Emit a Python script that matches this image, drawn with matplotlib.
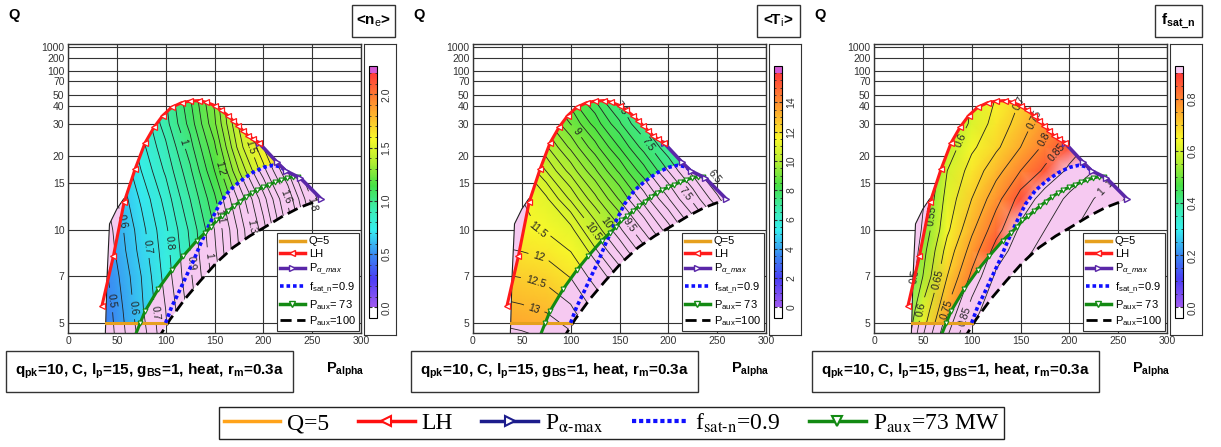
import numpy as np
import matplotlib
matplotlib.use('Agg')
import matplotlib.pyplot as plt
from matplotlib.colors import LinearSegmentedColormap, Normalize
from matplotlib.patches import Polygon, Rectangle
from matplotlib.lines import Line2D
from matplotlib.cm import ScalarMappable

plt.rcParams['font.family'] = ['Liberation Sans', 'DejaVu Sans']
plt.rcParams['mathtext.fontset'] = 'custom'
plt.rcParams['mathtext.rm'] = 'Liberation Sans'
plt.rcParams['mathtext.it'] = 'Liberation Sans:italic'
plt.rcParams['mathtext.bf'] = 'Liberation Sans:bold'

W, H = 1221, 447

# Boundary curves, P_alpha [MW] vs Q
lh_p = [34.7, 46.5, 57.4, 68.7, 78.9, 88.1, 96.9, 106.1, 116.3, 124.8, 134.3, 141.8,
        150.3, 157.1, 163.9, 169.0, 174.1, 179.2, 184.3, 189.4, 195.5]
lh_q = [5.64, 8.15, 12.6, 17.3, 23.2, 28.5, 33.9, 39.0, 42.5, 43.8, 44.3, 42.8,
        40.3, 37.0, 33.9, 31.4, 29.2, 27.2, 25.4, 24.4, 23.2]

pmax_p = [195.5, 213.9, 222.8, 238.0, 259.2]
pmax_q = [23.2, 18.6, 17.0, 15.8, 13.0]

fsat_p = [100, 106, 112, 120, 128, 136, 145, 155, 165, 176, 188, 200, 210, 218, 222]
fsat_q = [5.0, 5.6, 6.1, 6.9, 7.8, 9.0, 10.5, 12.4, 14.0, 15.3, 16.6, 17.6, 18.0, 17.7, 17.1]

aux73_p = [68, 74, 78.9, 92.5, 106.1, 118, 131.6, 140, 146, 152, 158, 164, 170, 176,
           182, 188, 194, 200, 206, 212, 218, 224, 230, 236]
aux73_q = [4.5, 5.0, 5.44, 6.39, 7.32, 8.15, 9.16, 9.75, 10.2, 10.8, 11.2, 11.7, 12.2, 12.7,
           13.2, 13.7, 14.1, 14.5, 14.8, 15.2, 15.5, 15.8, 16.0, 16.0]

aux100_p = [92, 104.4, 120, 135.2, 152, 169, 186, 203, 220, 237, 250.6, 259.2]
aux100_q = [4.45, 5.12, 5.95, 6.76, 7.75, 8.7, 9.52, 10.3, 11.2, 12.05, 12.6, 13.0]

left_p = [38, 38.6, 40, 42.5, 50, 57]
left_q = [4.4, 5.0, 7.0, 10.5, 11.9, 13.0]

q5_p = [38.6, 100]
q5_q = [5, 5]

# field tables: rows = grid_q, columns = grid_p
grid_p = [0, 25, 50, 75, 100, 125, 150, 175, 200, 225, 250, 275, 300]
grid_q = [4.5, 5.5, 7, 8.5, 10, 13, 17, 22, 30, 50]

ne_vals = [
    [0.30, 0.40, 0.51, 0.62, 0.74, 0.85, 0.98, 1.13, 1.30, 1.47, 1.65, 1.86, 2.06],
    [0.31, 0.41, 0.52, 0.64, 0.75, 0.87, 1.00, 1.15, 1.32, 1.49, 1.68, 1.88, 2.08],
    [0.33, 0.43, 0.54, 0.65, 0.77, 0.89, 1.02, 1.18, 1.35, 1.52, 1.71, 1.91, 2.11],
    [0.34, 0.44, 0.56, 0.67, 0.78, 0.90, 1.04, 1.20, 1.37, 1.54, 1.73, 1.94, 2.13],
    [0.35, 0.45, 0.57, 0.68, 0.79, 0.91, 1.05, 1.21, 1.38, 1.56, 1.75, 1.96, 2.15],
    [0.38, 0.48, 0.60, 0.71, 0.82, 0.95, 1.09, 1.26, 1.43, 1.61, 1.81, 2.02, 2.20],
    [0.41, 0.52, 0.63, 0.75, 0.86, 0.99, 1.15, 1.35, 1.53, 1.70, 1.89, 2.08, 2.26],
    [0.44, 0.55, 0.66, 0.78, 0.89, 1.03, 1.19, 1.42, 1.60, 1.77, 1.95, 2.13, 2.31],
    [0.46, 0.58, 0.69, 0.80, 0.93, 1.07, 1.24, 1.46, 1.64, 1.81, 2.00, 2.17, 2.36],
    [0.49, 0.60, 0.71, 0.83, 0.95, 1.10, 1.27, 1.48, 1.66, 1.84, 2.03, 2.21, 2.40],
]

ti_vals = [
    [13.79, 13.72, 13.62, 13.47, 13.12, 12.44, 11.84, 11.24, 10.64, 10.04, 9.44, 8.84, 8.24],
    [13.26, 13.19, 13.09, 12.94, 12.59, 11.91, 11.31, 10.71, 10.11, 9.51, 8.91, 8.31, 7.71],
    [12.64, 12.57, 12.47, 12.32, 11.97, 11.29, 10.69, 10.09, 9.49, 8.89, 8.29, 7.69, 7.09],
    [12.15, 12.08, 11.98, 11.83, 11.48, 10.80, 10.20, 9.60, 9.00, 8.40, 7.80, 7.20, 6.60],
    [11.76, 11.69, 11.59, 11.44, 11.09, 10.41, 9.81, 9.21, 8.61, 8.01, 7.41, 6.81, 6.21],
    [12.15, 11.85, 11.50, 11.05, 10.45, 9.82, 9.22, 8.62, 8.02, 7.42, 6.82, 6.22, 5.62],
    [12.29, 11.69, 11.09, 10.49, 9.89, 9.29, 8.69, 8.09, 7.49, 6.89, 6.29, 5.69, 5.09],
    [11.84, 11.24, 10.64, 10.04, 9.44, 8.84, 8.24, 7.64, 7.04, 6.44, 5.84, 5.24, 4.64],
    [11.39, 10.79, 10.19, 9.59, 8.99, 8.39, 7.79, 7.19, 6.59, 5.99, 5.39, 4.79, 4.19],
    [10.85, 10.25, 9.65, 9.05, 8.45, 7.85, 7.25, 6.65, 6.05, 5.45, 4.85, 4.25, 3.65],
]

fs_vals = [
    [0.25, 0.46, 0.65, 0.80, 0.91, 0.97, 1.03, 1.07, 1.12, 1.16, 1.20, 1.24, 1.28],
    [0.22, 0.42, 0.61, 0.75, 0.87, 0.95, 1.00, 1.04, 1.08, 1.12, 1.16, 1.20, 1.24],
    [0.22, 0.39, 0.55, 0.70, 0.81, 0.91, 0.96, 1.01, 1.05, 1.09, 1.12, 1.16, 1.19],
    [0.20, 0.37, 0.53, 0.67, 0.77, 0.87, 0.93, 0.97, 1.02, 1.05, 1.09, 1.13, 1.16],
    [0.20, 0.36, 0.51, 0.64, 0.74, 0.83, 0.91, 0.95, 0.99, 1.03, 1.07, 1.11, 1.15],
    [0.20, 0.35, 0.49, 0.62, 0.70, 0.78, 0.87, 0.92, 0.96, 1.00, 1.04, 1.08, 1.12],
    [0.20, 0.35, 0.47, 0.60, 0.67, 0.73, 0.80, 0.86, 0.91, 0.95, 0.99, 1.03, 1.07],
    [0.20, 0.34, 0.46, 0.57, 0.64, 0.69, 0.75, 0.81, 0.87, 0.92, 0.96, 1.00, 1.04],
    [0.20, 0.33, 0.44, 0.54, 0.61, 0.67, 0.72, 0.78, 0.83, 0.89, 0.93, 0.98, 1.02],
    [0.20, 0.32, 0.43, 0.52, 0.60, 0.65, 0.69, 0.74, 0.80, 0.86, 0.91, 0.96, 1.01],
]

# contour label anchors (P, Q)
ne_lab_pos = [(48.4, 5.9), (63.6, 10.9), (73.9, 5.6), (85.7, 8.8), (95.9, 5.4), (104.4, 9.0),
              (126.5, 7.75), (119, 23.7), (145, 8.2), (157, 17.5), (155, 11.2), (181, 21.7),
              (189.4, 10.3), (223, 13.3), (249, 12.4)]
ne_lab_lev = [0.5, 0.6, 0.7, 0.8, 0.9, 1.0, 1.1, 1.2, 1.3, 1.5, 1.6, 1.8]
ti_lab_pos = [(61, 5.37), (62.5, 6.5), (66, 7.84), (66, 10.05), (121, 9.8), (136.4, 10.6),
              (153.6, 10.05), (114, 29.2), (150, 38), (177.6, 22.5), (215.5, 13.4), (241, 15.2)]
ti_lab_lev = [6.5, 7, 7.5, 9, 9.5, 10, 10.5, 11.5, 12, 12.5, 13]
fs_lab_pos = [(153, 40.8), (166.8, 31.4), (173.6, 24.4), (190.9, 20), (236.8, 15.6), (235, 13.6),
              (86.5, 24.4), (62.8, 11.2), (42, 7.0), (66, 6.85), (49, 5.5), (74.6, 5.5), (93.3, 5.25)]
fs_lab_lev = [0.5, 0.55, 0.6, 0.65, 0.7, 0.75, 0.8, 0.85, 0.95, 1.0]

ytick_vals = [5, 7, 10, 15, 20, 30, 40, 50, 70, 100, 200, 1000]
xtick_vals = [0, 50, 100, 150, 200, 250, 300]

PINK = '#f6c9f1'
base_cmap = LinearSegmentedColormap.from_list('jetp', [
    (0.0, '#a25bf0'), (0.12, '#4b3ef5'), (0.22, '#3a86f2'), (0.33, '#36eef0'),
    (0.42, '#3cecb0'), (0.52, '#46e046'), (0.62, '#b2ee32'), (0.72, '#f8f82a'),
    (0.86, '#ff9a2e'), (1.0, '#ff3a3a')])


def fwd(q):
    q = np.asarray(q, float)
    return q / (q + 5.0)


def inv(f):
    f = np.clip(np.asarray(f, float), -10, 0.999999)
    return 5.0 * f / (1.0 - f)


def fig_rect(x0, y0, x1, y1):
    return [x0 / W, 1 - y1 / H, (x1 - x0) / W, (y1 - y0) / H]


ti_levels = list(np.round(np.arange(3, 11.01, 0.25), 2)) + [11.5, 12, 12.5, 13, 13.5]
panels = [
    dict(vals=ne_vals, vmax=2.2, levels=list(np.round(np.arange(0.3, 2.45, 0.05), 2)),
         lab_pos=ne_lab_pos, lab_lev=ne_lab_lev, ticks=[0, 0.5, 1.0, 1.5, 2.0], fmt='%.1f',
         over='#d45ad2', title='<n$_{\\rm e}$>', tbox=(352, 395)),
    dict(vals=ti_vals, vmax=16.0, levels=ti_levels,
         lab_pos=ti_lab_pos, lab_lev=ti_lab_lev, ticks=[0, 2, 4, 6, 8, 10, 12, 14], fmt='%d',
         over='#d45ad2', title='<T$_{\\rm i}$>', tbox=(352, 395)),
    dict(vals=fs_vals, vmax=0.9, levels=list(np.round(np.arange(0.2, 1.3, 0.05), 2)),
         lab_pos=fs_lab_pos, lab_lev=fs_lab_lev, ticks=[0.0, 0.2, 0.4, 0.6, 0.8], fmt='%.1f',
         over=PINK, title='f$_{\\mathbf{sat\\_n}}$', tbox=(349, 396)),
]
offsets = [0, 405, 806]

fig = plt.figure(figsize=(W / 100, H / 100), dpi=100)

lp, lq = np.array(left_p), np.array(left_q)
hp, hq = np.array(lh_p), np.array(lh_q)
mp, mq = np.array(pmax_p), np.array(pmax_q)
sp, sq = np.array(fsat_p), np.array(fsat_q)
gp, gq = np.array(aux73_p), np.array(aux73_q)
bp, bq = np.array(aux100_p), np.array(aux100_q)

# whole accessible region (pink)
pink_xy = np.column_stack([
    np.r_[lp, hp[hp > 57.5], mp[1:], bp[::-1]],
    np.r_[lq, hq[hp > 57.5], mq[1:], bq[::-1]]])
# region with f_sat<0.9 and P_aux<73, Q>5
k_l = (lq >= 5) & (lq <= 7)
k_s = sq >= 10
k_g = (gq >= 5) & (gq < 10)
col_xy = np.column_stack([
    np.r_[lp[k_l], hp[hq > 7], mp[mq >= 17], sp[k_s][::-1], gp[k_g][::-1]],
    np.r_[lq[k_l], hq[hq > 7], mq[mq >= 17], sq[k_s][::-1], gq[k_g][::-1]]])

PP, QQ = np.meshgrid(grid_p, grid_q)

for pan, off in zip(panels, offsets):
    ax = fig.add_axes(fig_rect(68 + off, 44, 361 + off, 333))
    ax.set_yscale('function', functions=(fwd, inv))
    ax.set_xlim(0, 300)
    ax.set_ylim(4.65, 1e5)
    ax.set_xticks(xtick_vals)
    ax.set_yticks(ytick_vals)
    ax.set_yticklabels([str(v) for v in ytick_vals])
    ax.minorticks_off()
    ax.tick_params(labelsize=7.5, colors='#333333', length=0, pad=2.5)
    ax.grid(True, color='#333333', lw=0.8)
    ax.set_axisbelow(True)
    for s in ax.spines.values():
        s.set_linewidth(1.0)
        s.set_color('#333333')

    cmap = base_cmap.copy()
    cmap.set_over(pan['over'])
    cmap.set_under('white')
    norm = Normalize(0, pan['vmax'])
    Z = np.array(pan['vals'])

    pink = Polygon(pink_xy, closed=True, fc=PINK, ec='none', zorder=1)
    ax.add_patch(pink)
    mesh = ax.pcolormesh(PP, QQ, Z, shading='gouraud', cmap=cmap, norm=norm, zorder=2)
    mesh.set_clip_path(Polygon(col_xy, closed=True, transform=ax.transData))

    lev_all = pan['levels']
    lev_lab = [v for v in lev_all if np.any(np.isclose(v, pan['lab_lev']))]
    lev_other = [v for v in lev_all if not np.any(np.isclose(v, pan['lab_lev']))]
    cs0 = ax.contour(PP, QQ, Z, levels=lev_other, colors='#222222', linewidths=0.6, zorder=3)
    cs0.set_clip_path(Polygon(pink_xy, closed=True, transform=ax.transData))
    cs1 = ax.contour(PP, QQ, Z, levels=lev_lab, colors='#222222', linewidths=0.6, zorder=3)
    cs1.set_clip_path(Polygon(pink_xy, closed=True, transform=ax.transData))
    ax.clabel(cs1, manual=pan['lab_pos'], inline=True, fontsize=7.5, fmt='%g', colors='#222222')

    ax.plot(left_p, left_q, color='#222222', lw=0.8, zorder=4)
    ax.plot(aux100_p, aux100_q, color='black', lw=2, dashes=(4, 2), zorder=4)
    ax.plot(q5_p, q5_q, color='#e6a01e', lw=2.2, zorder=5)
    ax.plot(fsat_p, fsat_q, color='#1010ff', lw=2.6, dashes=(1, 0.8), zorder=5)
    ax.plot(aux73_p, aux73_q, color='#138a13', lw=2.2, marker='v', ms=3.5, mfc='white',
            mec='#138a13', mew=0.8, zorder=6)
    ax.plot(pmax_p, pmax_q, color='#5a27a8', lw=2.6, marker='>', ms=4.5, mfc='white',
            mec='#5a27a8', mew=1, zorder=6)
    ax.plot(lh_p, lh_q, color='#ff1a1a', lw=2.2, marker='<', ms=4, mfc='white',
            mec='#ff1a1a', mew=0.9, zorder=7)

    h_in = [
        Line2D([], [], color='#e6a01e', lw=2.5),
        Line2D([], [], color='#ff1a1a', lw=2.5, marker='<', ms=4, mfc='white'),
        Line2D([], [], color='#5a27a8', lw=2.5, marker='>', ms=4, mfc='white'),
        Line2D([], [], color='#1010ff', lw=2.6, dashes=(1, 0.8)),
        Line2D([], [], color='#138a13', lw=2.5, marker='v', ms=4, mfc='white'),
        Line2D([], [], color='black', lw=2, dashes=(4, 2)),
    ]
    l_in = ['Q=5', 'LH', 'P$_{\\alpha\\_max}$', 'f$_{\\rm sat\\_n}$=0.9',
            'P$_{\\rm aux}$= 73', 'P$_{\\rm aux}$=100']
    leg = ax.legend(h_in, l_in, loc='lower right', fontsize=8, numpoints=1, fancybox=False,
                    framealpha=1, edgecolor='#333333', borderaxespad=0.15, handlelength=2.2,
                    labelspacing=0.22, handletextpad=0.4, borderpad=0.3)
    leg.set_zorder(10)
    leg.get_frame().set_linewidth(0.8)

    # colorbar with frame
    fr = fig.add_axes(fig_rect(364 + off, 44, 396 + off, 335))
    fr.set_xticks([])
    fr.set_yticks([])
    for s in fr.spines.values():
        s.set_color('#333333')
    cax = fig.add_axes(fig_rect(369 + off, 66, 377 + off, 318))
    cb = fig.colorbar(ScalarMappable(norm=norm, cmap=cmap), cax=cax, extend='both',
                      extendrect=True, extendfrac=(0.045, 0.03), ticks=pan['ticks'], format=pan['fmt'])
    cb.outline.set_linewidth(0.8)
    cb.minorticks_on()
    cax.tick_params(which='both', labelsize=7.5, colors='#333333', direction='in',
                    left=True, right=True, length=2, pad=3)
    cax.tick_params(which='minor', length=1.2)
    for t in cax.get_yticklabels():
        t.set_rotation(90)
        t.set_va('center')

    # title box
    x0, x1 = pan['tbox']
    fig.add_artist(Rectangle(((x0 + off) / W, 1 - 37 / H), (x1 - x0) / W, 32 / H,
                             transform=fig.transFigure, fill=False, ec='#333333', lw=1))
    fig.text((x0 + x1) / 2 / W + off / W, 1 - 21 / H, pan['title'], ha='center', va='center',
             fontsize=11, fontweight='bold')

    fig.text((14 + off) / W, 1 - 15 / H, 'Q', ha='center', va='center', fontsize=10.5,
             fontweight='bold')

    fig.add_artist(Rectangle(((6 + off) / W, 1 - 392 / H), 287 / W, 41 / H,
                             transform=fig.transFigure, fill=False, ec='#333333', lw=1))
    fig.text((149.5 + off) / W, 1 - 371.5 / H,
             'q$_{\\mathbf{pk}}$=10, C, l$_{\\mathbf{p}}$=15, g$_{\\mathbf{BS}}$=1, heat, r$_{\\mathbf{m}}$=0.3a',
             ha='center', va='center', fontsize=11, fontweight='bold')
    fig.text((345 + off) / W, 1 - 370 / H, 'P$_{\\mathbf{alpha}}$', ha='center', va='center',
             fontsize=10.5, fontweight='bold')

# bottom legend
h_bot = [
    Line2D([], [], color='#ffa31a', lw=2.5),
    Line2D([], [], color='#ff1010', lw=2.5, marker='<', ms=7, mfc='white', mew=1.5),
    Line2D([], [], color='#1c1c8c', lw=2.5, marker='>', ms=7, mfc='white', mew=1.5),
    Line2D([], [], color='#1010ff', lw=3, dashes=(1, 0.7)),
    Line2D([], [], color='#138a13', lw=2.5, marker='v', ms=7, mfc='white', mew=1.5),
]
l_bot = ['Q=5', 'LH', 'P$_{\\mathrm{\\alpha\u2010max}}$', 'f$_{\\mathrm{sat\u2010n}}$=0.9',
         'P$_{\\mathrm{aux}}$=73 MW']
bleg = fig.legend(h_bot, l_bot, loc='center', bbox_to_anchor=(611.5 / W, 1 - 423 / H), ncol=5,
                  fancybox=False, edgecolor='#222222', framealpha=1, numpoints=1,
                  prop={'family': 'Liberation Serif', 'size': 17}, handlelength=2.4,
                  columnspacing=1.2, handletextpad=0.3, borderpad=0.2)
bleg.get_frame().set_linewidth(1)
for t in bleg.get_texts():
    t.set_math_fontfamily('stix')

fig.savefig('out.png', dpi=100)
